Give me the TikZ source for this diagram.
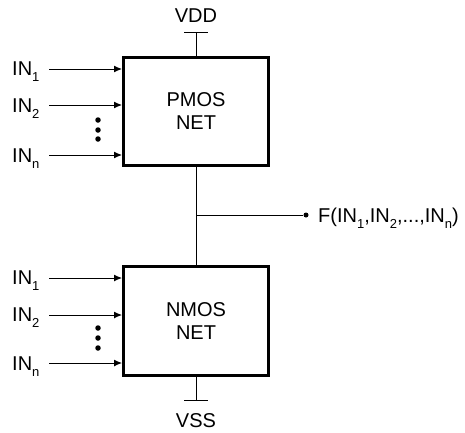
\documentclass[tikz,border=0pt]{standalone}
\usepackage{fontspec}
\setmainfont{Liberation Sans}
\usetikzlibrary{arrows.meta}
\newcommand{\sbs}[1]{\raisebox{-6pt}{\fontsize{13}{13}\selectfont #1}}
\begin{document}
\begin{tikzpicture}[x=1pt,y=-1pt,
  netbox/.style={draw,line width=3pt,minimum width=145pt,inner sep=0pt,align=center,font=\fontsize{20}{23}\selectfont},
  lbl/.style={anchor=base west,inner sep=0pt,font=\fontsize{20}{24}\selectfont},
  rail/.style={anchor=base,inner sep=0pt,font=\fontsize{20}{24}\selectfont},
  wire/.style={line width=1pt},
  inarrow/.style={line width=1pt,-{Latex[length=8pt,width=7pt]}},
  vdots/.style={circle,fill,inner sep=0pt,minimum size=5.5pt}]
\useasboundingbox (0,0) rectangle (465,432);
% boxes
\node[netbox,minimum height=108pt] (pmos) at (196,111.5) {PMOS\\NET};
\node[netbox,minimum height=109pt] (nmos) at (196,321) {NMOS\\NET};
% rails
\node[rail] (vdd) at (196,22) {VDD};
\node[rail] (vss) at (196,427) {VSS};
\coordinate (vddL) at (184,32); \coordinate (vddR) at (208,32); \coordinate (vddM) at (196,32);
\coordinate (vssL) at (184,400); \coordinate (vssR) at (208,400); \coordinate (vssM) at (196,400);
\draw[wire] (vddL) -- (vddR);
\draw[wire] (vddM) -- (pmos.north);
\draw[wire] (vssL) -- (vssR);
\draw[wire] (vssM) -- (nmos.south);
% middle connection
\draw[wire] (pmos.south) -- (nmos.north);
\coordinate (junc) at (196,215);
\node[circle,fill,inner sep=0pt,minimum size=5pt] (out) at (306,215) {};
\draw[wire] (junc) -- (out);
\node[lbl] (fout) at (318,222) {F(IN\sbs{1},IN\sbs{2},...,IN\sbs{n})};
% PMOS inputs
\node[lbl] (p1) at (12,75) {IN\sbs{1}};
\node[lbl] (p2) at (12,112) {IN\sbs{2}};
\node[lbl] (pn) at (12,162) {IN\sbs{n}};
\coordinate (pa1) at (49,69); \coordinate (pa2) at (49,105); \coordinate (pan) at (49,155);
\draw[inarrow] (pa1) -- (pmos.west |- pa1);
\draw[inarrow] (pa2) -- (pmos.west |- pa2);
\draw[inarrow] (pan) -- (pmos.west |- pan);
\node[vdots] (pd1) at (98,120) {};
\node[vdots] (pd2) at (98,130) {};
\node[vdots] (pd3) at (98,139) {};
% NMOS inputs
\node[lbl] (n1) at (12,284) {IN\sbs{1}};
\node[lbl] (n2) at (12,321) {IN\sbs{2}};
\node[lbl] (nn) at (12,370) {IN\sbs{n}};
\coordinate (na1) at (49,278); \coordinate (na2) at (49,315); \coordinate (nan) at (49,363);
\draw[inarrow] (na1) -- (nmos.west |- na1);
\draw[inarrow] (na2) -- (nmos.west |- na2);
\draw[inarrow] (nan) -- (nmos.west |- nan);
\node[vdots] (nd1) at (98,328) {};
\node[vdots] (nd2) at (98,338) {};
\node[vdots] (nd3) at (98,348) {};
\end{tikzpicture}
\end{document}
